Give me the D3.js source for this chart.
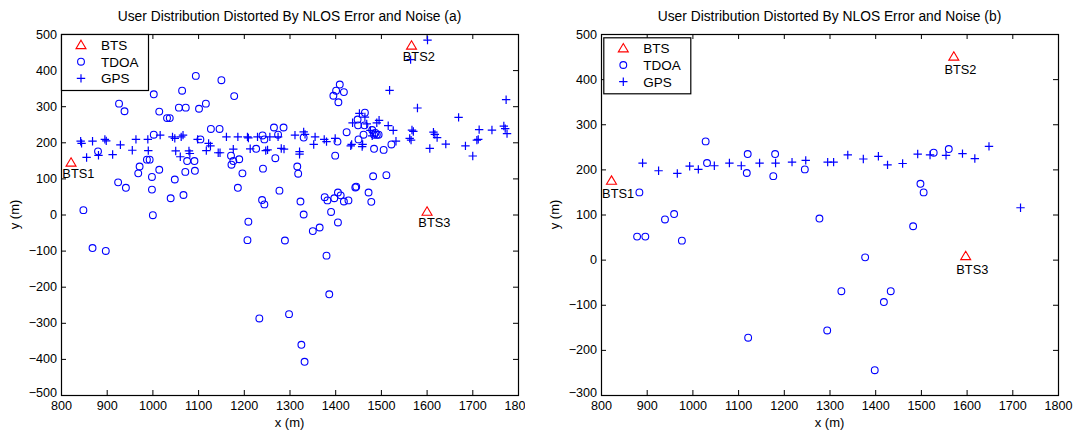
<!DOCTYPE html>
<html>
<head>
<meta charset="utf-8">
<script src="https://cdn.jsdelivr.net/npm/d3@7"></script>
<style>
body { margin: 0; background: #fff; }
svg text { font-family: "Liberation Sans", Arial, sans-serif; fill: #000; }
</style>
</head>
<body>
<svg id="chart" width="1075" height="430"></svg>
<script>
// ---- data ----
const xTickValues = [800, 900, 1000, 1100, 1200, 1300, 1400, 1500, 1600, 1700, 1800];
const yTickValuesA = [-500, -400, -300, -200, -100, 0, 100, 200, 300, 400, 500];
const yTickValuesB = [-300, -200, -100, 0, 100, 200, 300, 400, 500];
const legendLabels = ["BTS", "TDOA", "GPS"];
const btsNames = ["BTS1", "BTS2", "BTS3"];

const btsA = [[822, 144], [1567, 468], [1601, 8]];
const btsB = [[823, 175], [1572, 450], [1598, 8]];

const tdoaA = [
    [849, 12], [869, -93], [898, -101], [881, 175], [927, 307], [939, 286], [925, 89], [942, 74],
    [972, 133], [969, 114], [988, 152], [994, 152], [1003, 333], [1003, 221], [999, 104], [999, 69],
    [1001, -2], [1015, 285], [1015, 124], [1032, 267], [1038, 267], [1040, 45], [1049, 97], [1058, 296],
    [1065, 343], [1073, 296], [1068, 54], [1072, 118], [1076, 148], [1095, 384], [1102, 293], [1092, 148],
    [1093, 121], [1105, 208], [1117, 307], [1128, 237], [1147, 237], [1151, 372], [1179, 328], [1172, 163],
    [1173, 138], [1177, 148], [1190, 153], [1197, 114], [1187, 74], [1210, -20], [1208, -71], [1227, 182],
    [1241, 219], [1245, 208], [1242, 127], [1240, 40], [1245, 28], [1234, -288], [1266, 241], [1287, 241],
    [1275, 221], [1269, 156], [1278, 66], [1290, -72], [1299, -276], [1317, 133], [1319, 113], [1331, 213],
    [1324, 36], [1331, 0], [1326, -361], [1333, -408], [1351, -46], [1366, -36], [1377, 48], [1383, 39],
    [1381, -114], [1387, -221], [1391, 7], [1398, 45], [1406, 61], [1412, 53], [1419, 36], [1429, 39],
    [1406, -22], [1400, 163], [1405, 202], [1396, 329], [1402, 343], [1410, 360], [1419, 339], [1407, 311],
    [1425, 228], [1444, 75], [1446, 77], [1449, 263], [1450, 247], [1451, 208], [1465, 282], [1462, 221],
    [1464, 247], [1473, 61], [1479, 35], [1483, 106], [1485, 182], [1481, 234], [1485, 221], [1491, 221],
    [1495, 221], [1488, 226], [1506, 179], [1512, 109], [1523, 194]
];

const gpsA = [
    [843, 203], [845, 197], [856, 158], [869, 203], [882, 164], [896, 208], [899, 204], [913, 166],
    [930, 193], [956, 178], [964, 208], [990, 208], [991, 177], [1017, 220], [1044, 215], [1049, 211],
    [1051, 176], [1061, 160], [1067, 220], [1063, 215], [1080, 176], [1082, 169], [1099, 208], [1118, 177],
    [1123, 197], [1127, 190], [1144, 171], [1148, 171], [1162, 215], [1177, 181], [1187, 215], [1208, 215],
    [1210, 212], [1214, 182], [1230, 215], [1248, 177], [1252, 179], [1257, 215], [1275, 215], [1282, 183],
    [1288, 181], [1312, 220], [1322, 174], [1322, 167], [1331, 229], [1334, 222], [1356, 215], [1353, 194],
    [1376, 208], [1381, 202], [1400, 211], [1434, 190], [1436, 194], [1438, 254], [1453, 280], [1459, 188],
    [1460, 194], [1465, 270], [1469, 251], [1477, 233], [1481, 218], [1491, 254], [1496, 261], [1516, 246],
    [1527, 233], [1533, 203], [1519, 344], [1563, 211], [1566, 206], [1568, 234], [1571, 230], [1565, 429],
    [1602, 483], [1580, 295], [1607, 183], [1615, 228], [1618, 222], [1623, 213], [1642, 195], [1670, 269],
    [1685, 190], [1701, 162], [1710, 206], [1713, 208], [1715, 235], [1743, 234], [1769, 245], [1772, 238],
    [1774, 318], [1776, 224]
];

const tdoaB = [
    [884, 149], [879, 51], [897, 51], [940, 89], [960, 101], [977, 42], [1029, 262], [1032, 214],
    [1121, 234], [1119, 192], [1122, -173], [1177, 185], [1181, 234], [1246, 200], [1278, 91], [1295, -157],
    [1326, -70], [1378, 5], [1399, -245], [1419, -94], [1434, -70], [1483, 74], [1499, 168], [1506, 149],
    [1528, 237], [1561, 245]
];

const gpsB = [
    [891, 214], [926, 197], [967, 191], [994, 207], [1013, 200], [1048, 208], [1081, 214], [1107, 208],
    [1147, 214], [1182, 214], [1218, 216], [1248, 220], [1296, 216], [1309, 216], [1340, 232], [1374, 223],
    [1407, 229], [1427, 210], [1460, 213], [1493, 234], [1520, 232], [1555, 231], [1591, 235], [1618, 224],
    [1649, 251], [1718, 115]
];

// ---- layout ----
const svg = d3.select("#chart");
const blue = "#0000ff";
const red = "#ff0000";

const panels = [
    {
        id: "a", left: 61, top: 34, width: 457, height: 361, clipW: 525,
        yDomain: [-500, 500], yTicks: yTickValuesA,
        title: "User Distribution Distorted By NLOS Error and Noise (a)",
        tdoa: tdoaA, gps: gpsA, bts: btsA,
        legendDx: 0, legendDy: 0, labelDx: -8.7, labelDy: 15.6, yLabelX: 19
    },
    {
        id: "b", left: 601, top: 34, width: 457, height: 361, clipW: null,
        yDomain: [-300, 500], yTicks: yTickValuesB,
        title: "User Distribution Distorted By NLOS Error and Noise (b)",
        tdoa: tdoaB, gps: gpsB, bts: btsB,
        legendDx: 2.3, legendDy: 3.3, labelDx: -9.4, labelDy: 17.6, yLabelX: 559
    }
];

const crossPath = "M-4.2,0H4.2M0,-4.2V4.2";
const triPath = "M0,-4.8L5,3.6L-5,3.6Z";
const fmt = d3.format("d");

panels.forEach(p => {
    let root = svg.append("g");
    if (p.clipW) {
        svg.append("defs").append("clipPath").attr("id", "clip-" + p.id)
            .append("rect").attr("x", 0).attr("y", 0).attr("width", p.clipW).attr("height", 430);
        root.attr("clip-path", `url(#clip-${p.id})`);
    }

    const x = d3.scaleLinear().domain([800, 1800]).range([p.left, p.left + p.width]);
    const y = d3.scaleLinear().domain(p.yDomain).range([p.top + p.height, p.top]);

    // title
    root.append("text")
        .attr("x", p.left + p.width / 2)
        .attr("y", 21)
        .attr("text-anchor", "middle")
        .style("font-size", "13.8px")
        .text(p.title);

    // axes, ticks pointing inward
    const bottom = root.append("g")
        .attr("transform", `translate(0,${p.top + p.height})`)
        .call(d3.axisBottom(x).tickValues(xTickValues).tickFormat(fmt).tickSize(-5).tickPadding(6.5));
    const leftAx = root.append("g")
        .attr("transform", `translate(${p.left},0)`)
        .call(d3.axisLeft(y).tickValues(p.yTicks).tickFormat(fmt).tickSize(-5).tickPadding(4));
    root.append("g")
        .attr("transform", `translate(0,${p.top})`)
        .call(d3.axisTop(x).tickValues(xTickValues).tickSize(-5).tickFormat(""));
    root.append("g")
        .attr("transform", `translate(${p.left + p.width},0)`)
        .call(d3.axisRight(y).tickValues(p.yTicks).tickSize(-5).tickFormat(""));

    root.selectAll(".domain").remove();
    root.selectAll(".tick line").attr("stroke", "#000");
    [bottom, leftAx].forEach(g => g.selectAll("text")
        .style("font-size", "12.6px")
        .attr("fill", "#000")
        .style("font-family", "'Liberation Sans', Arial, sans-serif"));
    // the -500/-300 label sits just above the corner; lift it a touch so it clears the 800 label
    leftAx.selectAll(".tick text").filter(d => d === p.yDomain[0]).attr("dy", "0.1em");

    // plot box
    root.append("rect")
        .attr("x", p.left + 0.5).attr("y", p.top + 0.5)
        .attr("width", p.width).attr("height", p.height)
        .attr("fill", "none").attr("stroke", "#000").attr("stroke-width", 1.2);

    // axis labels
    root.append("text")
        .attr("x", p.left + p.width / 2).attr("y", 427)
        .attr("text-anchor", "middle")
        .style("font-size", "13px")
        .text("x (m)");
    root.append("text")
        .attr("transform", `translate(${p.yLabelX},${p.top + p.height / 2}) rotate(-90)`)
        .attr("text-anchor", "middle")
        .style("font-size", "13px")
        .text("y (m)");

    // points
    root.append("g").selectAll("circle")
        .data(p.tdoa)
        .join("circle")
        .attr("cx", d => x(d[0]))
        .attr("cy", d => y(d[1]))
        .attr("r", 3.4)
        .attr("fill", "none")
        .attr("stroke", blue)
        .attr("stroke-width", 1.1);

    root.append("g").selectAll("path")
        .data(p.gps)
        .join("path")
        .attr("transform", d => `translate(${x(d[0])},${y(d[1])})`)
        .attr("d", crossPath)
        .attr("fill", "none")
        .attr("stroke", blue)
        .attr("stroke-width", 1.2);

    root.append("g").selectAll("path")
        .data(p.bts)
        .join("path")
        .attr("transform", d => `translate(${x(d[0])},${y(d[1])})`)
        .attr("d", triPath)
        .attr("fill", "none")
        .attr("stroke", red)
        .attr("stroke-width", 1.1);

    root.append("g").selectAll("text")
        .data(p.bts)
        .join("text")
        .attr("x", d => x(d[0]) + p.labelDx)
        .attr("y", d => y(d[1]) + p.labelDy)
        .style("font-size", "12.8px")
        .text((d, i) => btsNames[i]);

    // legend
    const lg = root.append("g")
        .attr("transform", `translate(${p.left + p.legendDx},${p.top + p.legendDy})`);
    lg.append("rect")
        .attr("x", 0.5).attr("y", 0.5)
        .attr("width", 87).attr("height", 56)
        .attr("fill", "#fff").attr("stroke", "#000").attr("stroke-width", 1.2);

    legendLabels.forEach((label, i) => {
        const cy = 11 + i * 16.7;
        if (i === 0) {
            lg.append("path").attr("transform", `translate(20,${cy})`).attr("d", triPath)
                .attr("fill", "none").attr("stroke", red).attr("stroke-width", 1.1);
        } else if (i === 1) {
            lg.append("circle").attr("cx", 20).attr("cy", cy).attr("r", 3.4)
                .attr("fill", "none").attr("stroke", blue).attr("stroke-width", 1.1);
        } else {
            lg.append("path").attr("transform", `translate(20,${cy})`).attr("d", crossPath)
                .attr("fill", "none").attr("stroke", blue).attr("stroke-width", 1.2);
        }
        lg.append("text")
            .attr("x", 40).attr("y", cy)
            .attr("dy", "0.36em")
            .style("font-size", "13.5px")
            .text(label);
    });
});
</script>
</body>
</html>
